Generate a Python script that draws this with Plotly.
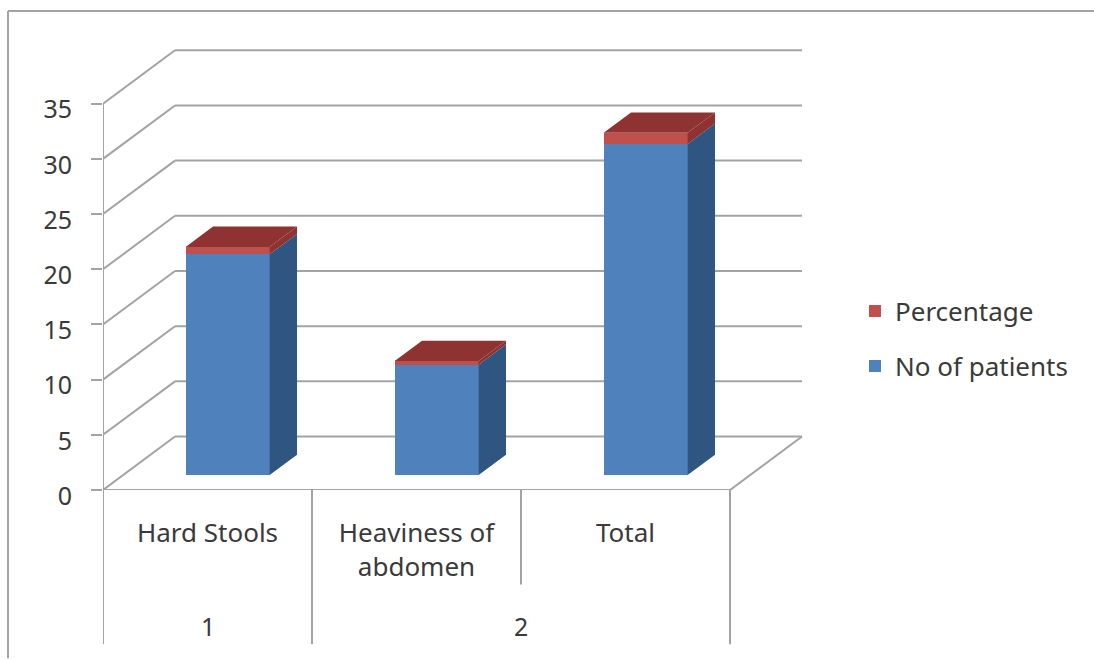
import plotly.graph_objects as go

# ---- data ----
categories = ["Hard Stools", "Heaviness of<br>abdomen", "Total"]
groups = ["1", "2"]
no_of_patients = [20, 10, 30]
percentage = [0.67, 0.33, 1.0]
y_ticks = [0, 5, 10, 15, 20, 25, 30, 35]

# ---- oblique projection set-up (pixels of the 1094x659 page) ----
W, H = 1094, 659
L, R, T, B = 103, 803, 40, 490.5
PX_X = 209.0           # px per category
PX_Y = 11.05           # px per value unit
DX, DY = 72 / PX_X, 53.5 / PX_Y      # wall depth in data units
BAR_FRONT = 0.28       # depth fraction of bar front
BAR_BACK = 0.66        # depth fraction of bar back
BAR_W = 84 / PX_X
N = len(categories)

GRID = "#a3a3a3"
TXT = "#3a3a3a"
FONT = "Noto Sans"
FS = 26
FS_Y = 25


def px(v):
    return (v - L) / (R - L)


def py(v):
    return (B - v) / (B - T)


def line(x0, y0, x1, y1, xref="x", yref="y", width=2):
    return dict(type="line", layer="below", xref=xref, yref=yref, x0=x0, y0=y0, x1=x1, y1=y1,
                line=dict(color=GRID, width=width))


shapes = []
for v in y_ticks:
    shapes.append(line(0, v, DX, v + DY))            # left wall
    shapes.append(line(DX, v + DY, N + DX, v + DY))  # back wall
shapes.append(line(0, 0, N, 0))
shapes.append(line(N, 0, N + DX, DY))
shapes.append(line(0, 0, 0, y_ticks[-1]))
# multi-level axis separators
for i, bottom in zip(range(N + 1), [645, 645, 585, 645]):
    shapes.append(line(i, py(B), i, py(bottom), xref="x", yref="paper"))
# outer chart frame
shapes.append(line(px(8), py(11), px(W), py(11), "paper", "paper"))
shapes.append(line(px(8), py(11), px(8), py(H), "paper", "paper"))

fig = go.Figure()

x_front = [i + 0.5 - BAR_W / 2 + BAR_FRONT * DX for i in range(N)]
y_front = BAR_FRONT * DY
d_dx = (BAR_BACK - BAR_FRONT) * DX
d_dy = (BAR_BACK - BAR_FRONT) * DY

series = [
    ("No of patients", no_of_patients, [0] * N, "#4f81bd", "#2f5581", 2),
    ("Percentage", percentage, no_of_patients, "#c0504d", "#8e3331", 1),
]

for name, vals, bases, front, dark, rank in series:
    fig.add_bar(
        x=[x + BAR_W / 2 for x in x_front],
        y=vals,
        base=[b + y_front for b in bases],
        width=BAR_W,
        name=name,
        legendgroup=name,
        legendrank=rank,
        marker=dict(color=front, line=dict(width=0)),
    )
    xs, ys = [], []
    for x0, v, b in zip(x_front, vals, bases):
        xr = x0 + BAR_W
        lo = b + y_front
        hi = b + v + y_front
        xs += [xr, xr + d_dx, xr + d_dx, xr, xr, None]
        ys += [lo, lo + d_dy, hi + d_dy, hi, lo, None]
    fig.add_scatter(x=xs, y=ys, mode="lines", fill="toself", fillcolor=dark,
                    line=dict(width=0, color=dark), showlegend=False, hoverinfo="skip")

# bar tops (top series only)
xs, ys = [], []
for x0, a, b in zip(x_front, no_of_patients, percentage):
    hi = a + b + y_front
    xs += [x0, x0 + BAR_W, x0 + BAR_W + d_dx, x0 + d_dx, x0, None]
    ys += [hi, hi, hi + d_dy, hi + d_dy, hi, None]
fig.add_scatter(x=xs, y=ys, mode="lines", fill="toself", fillcolor="#8e3331",
                line=dict(width=0, color="#8e3331"), showlegend=False, hoverinfo="skip")

annotations = [
    dict(text=groups[0], x=0.5, y=py(627), xref="x", yref="paper", showarrow=False,
         font=dict(family=FONT, size=FS_Y, color=TXT), xanchor="center", yanchor="middle"),
    dict(text=groups[1], x=2.0, y=py(627), xref="x", yref="paper", showarrow=False,
         font=dict(family=FONT, size=FS_Y, color=TXT), xanchor="center", yanchor="middle"),
]

fig.update_layout(
    width=W, height=H,
    margin=dict(l=L, r=W - R, t=T, b=H - B, pad=0),
    paper_bgcolor="white", plot_bgcolor="white",
    barmode="overlay",
    bargap=0,
    shapes=shapes,
    annotations=annotations,
    font=dict(family=FONT, size=FS, color=TXT),
    xaxis=dict(range=[0, (R - L) / PX_X], tickmode="array",
               tickvals=[i + 0.5 for i in range(N)], ticktext=categories,
               showgrid=False, zeroline=False, showline=False, ticks="outside",
               ticklen=20, tickcolor="rgba(0,0,0,0)", tickfont=dict(family=FONT, size=FS, color=TXT)),
    yaxis=dict(range=[0, (B - T) / PX_Y], tickmode="array", tickvals=y_ticks,
               showgrid=False, zeroline=False, showline=False, ticks="outside",
               ticklen=11, tickwidth=2, tickcolor=GRID,
               ticklabelstandoff=14, ticklabelshift=6,
               tickfont=dict(family=FONT, size=FS_Y, color=TXT)),
    legend=dict(x=px(855), y=py(288), xanchor="left", yanchor="top",
                traceorder="grouped", tracegroupgap=18,
                font=dict(family=FONT, size=FS, color=TXT), bgcolor="rgba(0,0,0,0)"),
)

fig.write_html("out.html", config={"displayModeBar": False},
               post_script="document.body.style.margin='0';document.body.style.overflow='hidden';")
